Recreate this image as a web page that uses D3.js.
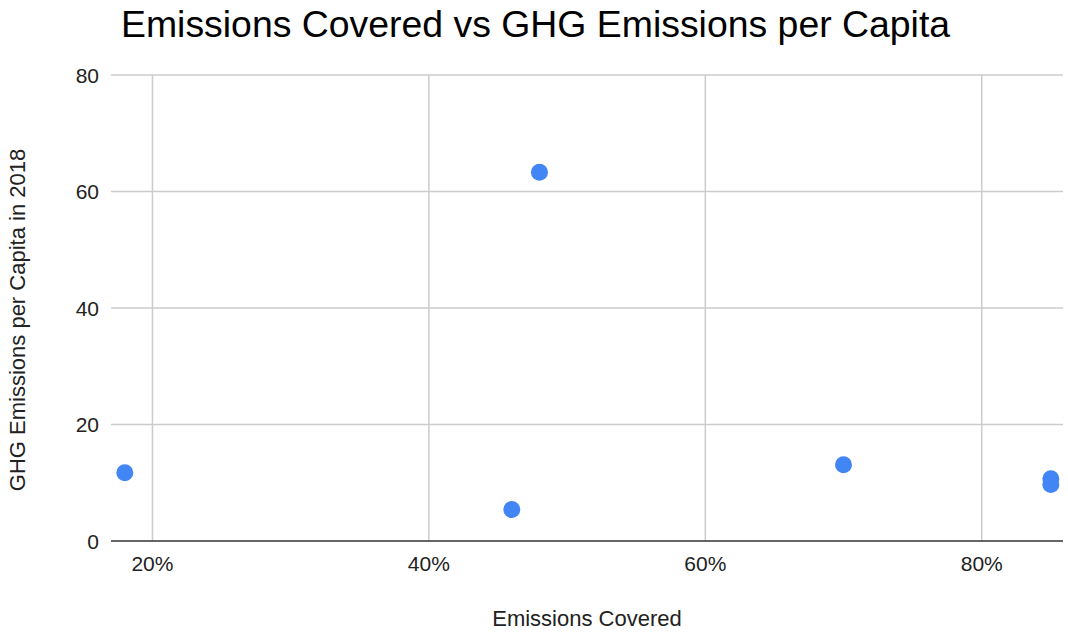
<!DOCTYPE html>
<html>
<head>
<meta charset="utf-8">
<script src="https://cdn.jsdelivr.net/npm/d3@7"></script>
<style>
  html, body { margin: 0; padding: 0; background: #fff; }
  svg { display: block; font-family: "Liberation Sans", Arial, sans-serif; }
</style>
</head>
<body>
<svg id="chart" width="1068" height="633"></svg>
<script>
// Share of emissions covered (fraction) and GHG emissions per capita in 2018
const emissionsCovered = [0.18, 0.46, 0.48, 0.70, 0.85, 0.85];
const ghgPerCapita = [11.7, 5.4, 63.3, 13.1, 10.7, 9.7];
const xTicks = [0.2, 0.4, 0.6, 0.8];
const yTicks = [0, 20, 40, 60, 80];

const svg = d3.select("#chart");
const plotLeft = 111, plotRight = 1063, plotTop = 75, plotBottom = 541;

const x = d3.scaleLinear().domain([0.17, 0.8588]).range([plotLeft, plotRight]);
const y = d3.scaleLinear().domain([0, 80]).range([plotBottom, plotTop]);

// Title
svg.append("text")
  .attr("x", 121).attr("y", 37)
  .attr("font-size", 37.4)
  .attr("fill", "#000")
  .text("Emissions Covered vs GHG Emissions per Capita");

// Horizontal gridlines
svg.append("g").selectAll("line")
  .data(yTicks.filter(d => d !== 0))
  .join("line")
  .attr("x1", plotLeft).attr("x2", plotRight)
  .attr("y1", d => y(d)).attr("y2", d => y(d))
  .attr("stroke", "#cccccc").attr("stroke-width", 1.5);

// Vertical gridlines
svg.append("g").selectAll("line")
  .data(xTicks)
  .join("line")
  .attr("x1", d => x(d)).attr("x2", d => x(d))
  .attr("y1", plotTop).attr("y2", plotBottom)
  .attr("stroke", "#cccccc").attr("stroke-width", 1.5);

// Baseline
svg.append("line")
  .attr("x1", plotLeft).attr("x2", plotRight)
  .attr("y1", y(0)).attr("y2", y(0))
  .attr("stroke", "#333").attr("stroke-width", 1.5);

// Y tick labels
svg.append("g").selectAll("text")
  .data(yTicks)
  .join("text")
  .attr("x", 99)
  .attr("y", d => y(d))
  .attr("dy", "0.36em")
  .attr("text-anchor", "end")
  .attr("font-size", 21)
  .attr("fill", "#222")
  .text(d => d3.format("d")(d));

// X tick labels
svg.append("g").selectAll("text")
  .data(xTicks)
  .join("text")
  .attr("x", d => x(d))
  .attr("y", 571)
  .attr("text-anchor", "middle")
  .attr("font-size", 21)
  .attr("fill", "#222")
  .text(d => d3.format(".0%")(d));

// Axis titles
svg.append("text")
  .attr("x", (plotLeft + plotRight) / 2).attr("y", 626)
  .attr("text-anchor", "middle")
  .attr("font-size", 22)
  .attr("fill", "#222")
  .text("Emissions Covered");

svg.append("text")
  .attr("transform", "translate(25,320) rotate(-90)")
  .attr("text-anchor", "middle")
  .attr("font-size", 22)
  .attr("fill", "#222")
  .text("GHG Emissions per Capita in 2018");

// Points
svg.append("g").selectAll("circle")
  .data(emissionsCovered.map((d, i) => [d, ghgPerCapita[i]]))
  .join("circle")
  .attr("cx", d => x(d[0]))
  .attr("cy", d => y(d[1]))
  .attr("r", 8.5)
  .attr("fill", "#4285f4");
</script>
</body>
</html>
